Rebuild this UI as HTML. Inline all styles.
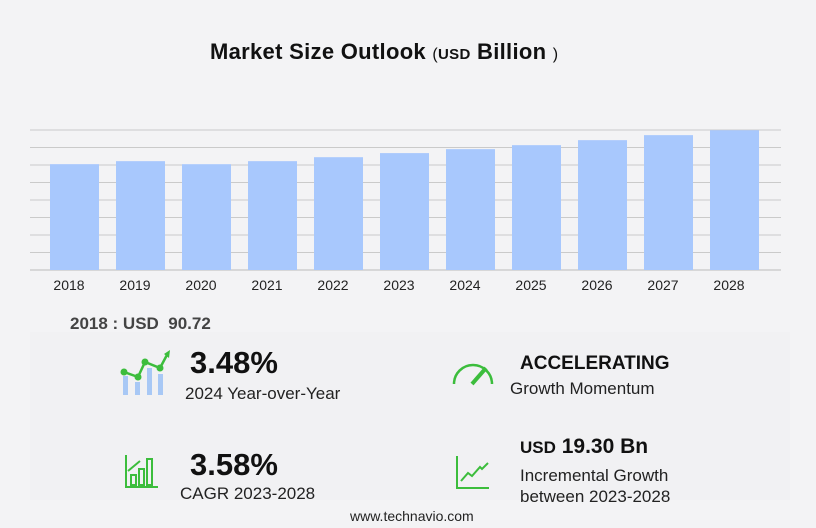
<!DOCTYPE html>
<html><head><meta charset="utf-8"><style>
body{margin:0;width:816px;height:528px;background:#f3f3f5;font-family:"Liberation Sans","DejaVu Sans",sans-serif;overflow:hidden;position:relative}
.a{position:absolute;white-space:nowrap}
</style></head><body>
<div class="a" style="left:210px;top:39px;font-size:22px;font-weight:bold;color:#111;letter-spacing:0.3px">Market Size Outlook <span style="font-size:16px;font-weight:normal">(</span><span style="font-size:15px">USD</span> Billion <span style="font-size:16px;font-weight:normal">)</span></div>
<svg class="a" style="left:0;top:0" width="816" height="300" id="chart"></svg>
<div class="a" style="left:70px;top:314px;font-size:17px;font-weight:bold;color:#444">2018 : USD&nbsp; 90.72</div>
<div class="a" style="left:30px;top:332px;width:760px;height:168px;background:#f1f1f3"></div>
<svg class="a" style="left:118px;top:348px" width="54" height="50">
<rect x="5" y="28" width="5" height="19" fill="#a8c8f5"/><rect x="17" y="34" width="5" height="13" fill="#a8c8f5"/><rect x="29" y="20" width="5" height="27" fill="#a8c8f5"/><rect x="40" y="26" width="5" height="21" fill="#a8c8f5"/>
<polyline points="6,24 20,29 27,14 42,20 50,5" fill="none" stroke="#3cbd3c" stroke-width="2.5"/>
<circle cx="6" cy="24" r="3.5" fill="#3cbd3c"/><circle cx="20" cy="29" r="3.5" fill="#3cbd3c"/><circle cx="27" cy="14" r="3.5" fill="#3cbd3c"/><circle cx="42" cy="20" r="3.5" fill="#3cbd3c"/><polygon points="46,6 52,2 51,10" fill="#3cbd3c"/></svg>
<div class="a" style="left:190px;top:345px;font-size:31px;font-weight:bold;color:#111">3.48%</div>
<div class="a" style="left:185px;top:384px;font-size:17px;color:#222">2024 Year-over-Year</div>
<svg class="a" style="left:450px;top:358px" width="46" height="30"><path d="M4,26 A19,19 0 0 1 42,26" fill="none" stroke="#3cbd3c" stroke-width="2.5"/><line x1="22" y1="26" x2="36" y2="10" stroke="#3cbd3c" stroke-width="4"/></svg>
<div class="a" style="left:520px;top:353px;font-size:19px;font-weight:bold;color:#111">ACCELERATING</div>
<div class="a" style="left:510px;top:379px;font-size:17px;color:#222">Growth Momentum</div>
<svg class="a" style="left:124px;top:453px" width="36" height="36" fill="none" stroke="#3cbd3c" stroke-width="2"><path d="M2,2 V34 H34"/><rect x="7" y="22" width="5" height="10"/><rect x="15" y="16" width="5" height="16"/><rect x="23" y="6" width="5" height="26"/><polyline points="4,18 16,8"/></svg>
<div class="a" style="left:190px;top:447px;font-size:31px;font-weight:bold;color:#111">3.58%</div>
<div class="a" style="left:180px;top:484px;font-size:17px;color:#222">CAGR 2023-2028</div>
<svg class="a" style="left:454px;top:455px" width="36" height="36" fill="none" stroke="#3cbd3c" stroke-width="2"><path d="M3,1 V33 H35"/><polyline points="7,26 14,18 18,21 26,12 28,14 34,8"/></svg>
<div class="a" style="left:520px;top:435px;font-size:21px;font-weight:bold;color:#111"><span style="font-size:17px">USD</span> 19.30 Bn</div>
<div class="a" style="left:520px;top:465px;font-size:17px;color:#222;line-height:21px">Incremental Growth<br>between 2023-2028</div>
<div class="a" style="left:350px;top:508px;font-size:14px;color:#222">www.technavio.com</div>
<script>
const years=["2018","2019","2020","2021","2022","2023","2024","2025","2026","2027","2028"];
const values=[90.72,93.3,90.7,93.3,96.7,100.2,103.6,107.0,111.3,115.6,119.8];
const gridTicks=[0,15,30,45,60,75,90,105,120];
const NS="http://www.w3.org/2000/svg",svg=document.getElementById('chart');
const base=270,top0=130,yMax=120;
const y=v=>base-(v/yMax)*(base-top0);
const x=i=>50+i*66;
gridTicks.forEach(t=>{const l=document.createElementNS(NS,'line');


l.setAttribute('x1',30);l.setAttribute('x2',781);l.setAttribute('y1',y(t));l.setAttribute('y2',y(t));
l.setAttribute('stroke',t===0?'#bbb':'#cacaca');l.setAttribute('stroke-width',1);svg.appendChild(l);});
values.forEach((v,i)=>{const r=document.createElementNS(NS,'rect');


r.setAttribute('x',x(i));r.setAttribute('width',49);r.setAttribute('y',y(v));r.setAttribute('height',base-y(v));r.setAttribute('fill','#a8c8fd');svg.appendChild(r);
const t=document.createElementNS(NS,'text');


t.setAttribute('x',x(i)+19);t.setAttribute('y',290);t.setAttribute('text-anchor','middle');t.setAttribute('font-size','14');t.setAttribute('fill','#222');t.textContent=years[i];svg.appendChild(t);});
</script>
</body></html>
